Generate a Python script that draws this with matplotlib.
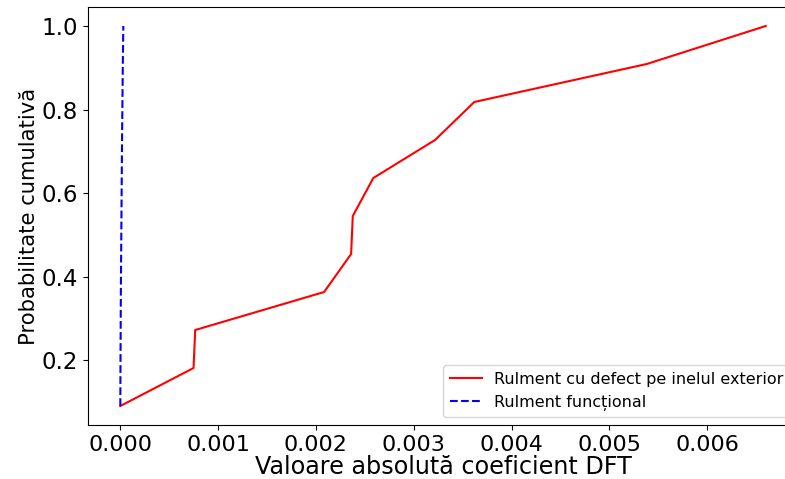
import matplotlib
matplotlib.use("Agg")
import matplotlib.pyplot as plt

# -------------------------------
# Data
# -------------------------------
prob = [1/11, 2/11, 3/11, 4/11, 5/11, 6/11, 7/11, 8/11, 9/11, 10/11, 11/11]
x_defect = [0.0000, 0.000749, 0.000766, 0.002084, 0.00236, 0.002377,
            0.002587, 0.003218, 0.003619, 0.005383, 0.006599]
x_ok = [0.0000005, 0.000002, 0.000004, 0.000006, 0.000009, 0.000012,
        0.000015, 0.000018, 0.000022, 0.000026, 0.000031]

label_defect = "Rulment cu defect pe inelul exterior"
label_ok = "Rulment funcțional"

fig = plt.figure(figsize=(7.85, 4.79), dpi=100)
ax = fig.add_axes([0.1121, 0.1127, 0.9045, 0.8727])

ax.plot(x_defect, prob, color="red", linestyle="-", label=label_defect)
ax.plot(x_ok, prob, color="blue", linestyle="--", label=label_ok)

ax.set_xlabel("Valoare absolută coeficient DFT", fontsize=17.2, labelpad=0.5)
ax.set_ylabel("Probabilitate cumulativă", fontsize=15.2, labelpad=2)
ax.tick_params(axis="x", labelsize=16)
ax.tick_params(axis="y", labelsize=16.5)
ax.set_yticks([0.2, 0.4, 0.6, 0.8, 1.0])
ax.legend(loc="lower right", fontsize=11.5)

fig.savefig("out.png", dpi=100)
plt.close(fig)
